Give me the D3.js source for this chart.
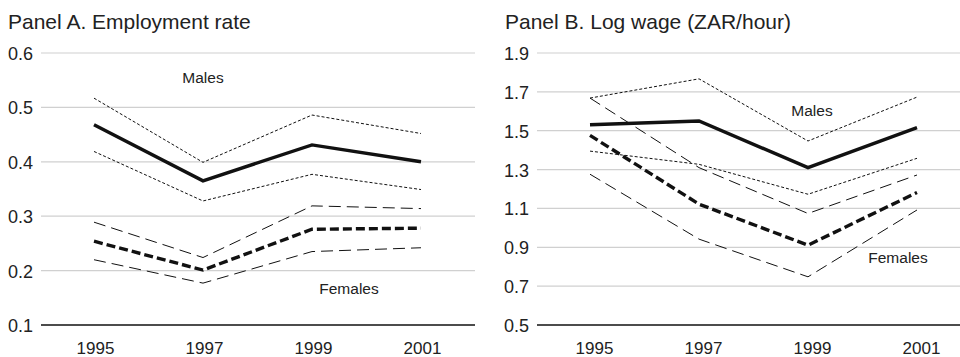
<!DOCTYPE html>
<html><head><meta charset="utf-8">
<script src="https://cdn.jsdelivr.net/npm/d3@7"></script>
<style>body{margin:0;background:#fff}svg{display:block}text{font-family:"Liberation Sans",Arial,Helvetica,sans-serif;fill:#222}</style>
</head><body><svg id="c" width="960" height="357"></svg>
<script>
const years = [1995, 1997, 1999, 2001];
// Panel A: employment rate
const empMale = [0.468, 0.365, 0.431, 0.400];
const empMaleHi = [0.517, 0.399, 0.486, 0.452];
const empMaleLo = [0.419, 0.328, 0.377, 0.349];
const empFem = [0.254, 0.201, 0.276, 0.278];
const empFemHi = [0.289, 0.224, 0.319, 0.314];
const empFemLo = [0.220, 0.177, 0.235, 0.242];
const empTicks = [0.1, 0.2, 0.3, 0.4, 0.5, 0.6];
// Panel B: log wage
const wageMale = [1.531, 1.550, 1.310, 1.516];
const wageMaleHi = [1.668, 1.767, 1.447, 1.673];
const wageMaleLo = [1.395, 1.327, 1.173, 1.358];
const wageFem = [1.476, 1.122, 0.911, 1.182];
const wageFemHi = [1.668, 1.310, 1.074, 1.272];
const wageFemLo = [1.276, 0.942, 0.748, 1.092];
const wageTicks = [0.5, 0.7, 0.9, 1.1, 1.3, 1.5, 1.7, 1.9];

const svg = d3.select("#c");

const styles = {
  mean: {w: 3.4, dash: null},
  femMean: {w: 3.4, dash: "9,4"},
  maleCI: {w: 1, dash: "3,2"},
  femCI: {w: 1, dash: "12,6"}
};

function panel(cfg) {
  const g = svg.append("g");
  const x = d3.scaleLinear().domain([1995, 2001]).range(cfg.xr);
  const y = d3.scaleLinear().domain(cfg.yd).range([325, 53]);
  g.append("text").attr("x", cfg.titleX).attr("y", 28.5).style("font-size", "21px").text(cfg.title);
  const ya = d3.axisLeft(y).tickValues(cfg.ticks).tickSize(0).tickPadding(0).tickFormat(d3.format(".1f"));
  const yg = g.append("g").attr("transform", `translate(${cfg.gx[0]},0)`).call(ya);
  yg.select(".domain").remove();
  yg.selectAll("text").attr("x", -8).attr("dy", "0.36em").style("font-size", "18px").style("fill", "#222");
  g.selectAll("line.grid").data(cfg.ticks.slice(1)).join("line").attr("class", "grid")
    .attr("x1", cfg.gx[0]).attr("x2", cfg.gx[1]).attr("y1", d => y(d)).attr("y2", d => y(d))
    .attr("stroke", "#d0d0d0").attr("stroke-width", 1.2);
  g.append("line").attr("x1", cfg.gx[0]).attr("x2", cfg.gx[1]).attr("y1", y(cfg.ticks[0])).attr("y2", y(cfg.ticks[0]))
    .attr("stroke", "#111").attr("stroke-width", 1.5);
  const xa = d3.axisBottom(x).tickValues(years).tickSize(0).tickPadding(0).tickFormat(d3.format("d"));
  const xg = g.append("g").attr("transform", `translate(0,${y(cfg.ticks[0])})`).call(xa);
  xg.select(".domain").remove();
  xg.selectAll("text").attr("x", cfg.lblShift).attr("y", 28.5).attr("dy", 0).style("font-size", "17px").style("fill", "#222");
  const line = d3.line().x((d, i) => x(years[i])).y(d => y(d));
  cfg.series.forEach(s => {
    g.append("path").datum(s.v).attr("d", line).attr("fill", "none").attr("stroke", "#111")
      .attr("stroke-width", styles[s.st].w).attr("stroke-dasharray", styles[s.st].dash);
  });
  cfg.labels.forEach(l => {
    g.append("text").attr("x", l.x).attr("y", l.y).attr("text-anchor", "middle").style("font-size", "15.5px").text(l.t);
  });
}

panel({
  title: "Panel A. Employment rate", titleX: 8, xr: [94, 421], gx: [41, 475], yd: [0.1, 0.6], ticks: empTicks, lblShift: 1,
  series: [
    {v: empMaleHi, st: "maleCI"}, {v: empMaleLo, st: "maleCI"}, {v: empMale, st: "mean"},
    {v: empFemHi, st: "femCI"}, {v: empFemLo, st: "femCI"}, {v: empFem, st: "femMean"}
  ],
  labels: [{t: "Males", x: 203, y: 83}, {t: "Females", x: 349, y: 294}]
});
panel({
  title: "Panel B. Log wage (ZAR/hour)", titleX: 505, xr: [590, 917], gx: [537, 960], yd: [0.5, 1.9], ticks: wageTicks, lblShift: 4,
  series: [
    {v: wageMaleHi, st: "maleCI"}, {v: wageMaleLo, st: "maleCI"}, {v: wageMale, st: "mean"},
    {v: wageFemHi, st: "femCI"}, {v: wageFemLo, st: "femCI"}, {v: wageFem, st: "femMean"}
  ],
  labels: [{t: "Males", x: 812, y: 116}, {t: "Females", x: 898, y: 263}]
});
</script></body></html>
